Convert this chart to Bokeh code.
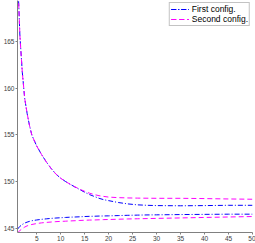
from bokeh.plotting import figure
from bokeh.models import Range1d, Legend, LegendItem, FixedTicker
from bokeh.embed import file_html
from bokeh.resources import INLINE

x = [1, 1.5, 2, 2.5, 3, 3.5, 4, 5, 6, 7, 8, 9, 10, 11, 12, 13, 14, 15, 16, 17,
     18, 19, 20, 22, 24, 26, 28, 30, 35, 40, 45, 50]

first_upper = [172.5, 165.6, 161.7, 158.9, 157.3, 156.0, 154.95, 153.8, 152.9, 152.1,
               151.4, 150.8, 150.35, 150.0, 149.7, 149.4, 149.13, 148.85, 148.6, 148.4,
               148.2, 148.05, 147.95, 147.75, 147.6, 147.5, 147.45, 147.42, 147.4, 147.42,
               147.45, 147.45]
second_upper = [172.5, 165.6, 161.7, 158.9, 157.3, 156.0, 154.95, 153.8, 152.9, 152.1,
                151.4, 150.8, 150.35, 150.0, 149.7, 149.42, 149.17, 148.95, 148.75, 148.6,
                148.48, 148.4, 148.33, 148.27, 148.24, 148.22, 148.21, 148.2, 148.2, 148.17,
                148.13, 148.1]
first_lower = [144.9, 145.2, 145.4, 145.55, 145.65, 145.73, 145.8, 145.88, 145.95, 146.0,
               146.05, 146.09, 146.12, 146.15, 146.18, 146.2, 146.22, 146.25, 146.27, 146.28,
               146.3, 146.31, 146.32, 146.35, 146.38, 146.4, 146.42, 146.43, 146.46, 146.48,
               146.5, 146.5]
second_lower = [144.5, 144.75, 144.95, 145.12, 145.25, 145.33, 145.4, 145.5, 145.57, 145.62,
                145.66, 145.7, 145.73, 145.75, 145.78, 145.8, 145.83, 145.85, 145.87, 145.88,
                145.9, 145.92, 145.93, 145.96, 145.99, 146.01, 146.03, 146.05, 146.1, 146.15,
                146.2, 146.25]

x_ticks = [5, 10, 15, 20, 25, 30, 35, 40, 45, 50]
y_ticks = [145, 150, 155, 160, 165]
labels = ["First config.", "Second config."]

p = figure(width=255, height=243, output_backend="svg", toolbar_location=None,
           x_range=Range1d(1, 50), y_range=Range1d(144.54, 169.37),
           min_border_left=0, min_border_right=3, min_border_top=0, min_border_bottom=0)

p.grid.visible = False
p.outline_line_color = None
for ax, t in ((p.xaxis, x_ticks), (p.yaxis, y_ticks)):
    ax.ticker = FixedTicker(ticks=t)
    ax.axis_line_color = "#808080"
    ax.major_tick_line_color = "#808080"
    ax.major_tick_out = 2
    ax.major_tick_in = 0
    ax.minor_tick_line_color = None
    ax.major_label_text_font_size = "6.5px"
    ax.major_label_text_color = "#404040"
    ax.major_label_text_font = "Liberation Sans"
    ax.major_label_standoff = 1

BLUE = "#0000ff"
MAG = "#ff00ff"
r1a = p.line(x, first_upper, line_color=BLUE, line_width=1, line_dash="5 2 1 2")
r1b = p.line(x, first_lower, line_color=BLUE, line_width=1, line_dash="5 2 1 2")
r2a = p.line(x, second_upper, line_color=MAG, line_width=1, line_dash="5 3")
r2b = p.line(x, second_lower, line_color=MAG, line_width=1, line_dash="5 3")

legend = Legend(items=[LegendItem(label=labels[0], renderers=[r1a, r1b]),
                       LegendItem(label=labels[1], renderers=[r2a, r2b])],
                location="top_right", margin=2, padding=1, spacing=0,
                label_text_font_size="8.5px", label_text_font="Liberation Sans",
                label_text_color="black",
                label_height=10, glyph_width=18, glyph_height=10, label_standoff=3,
                border_line_color="#888888", border_line_width=1,
                background_fill_color="white", background_fill_alpha=1)
p.add_layout(legend)

open("out.html", "w").write(file_html(p, INLINE))
